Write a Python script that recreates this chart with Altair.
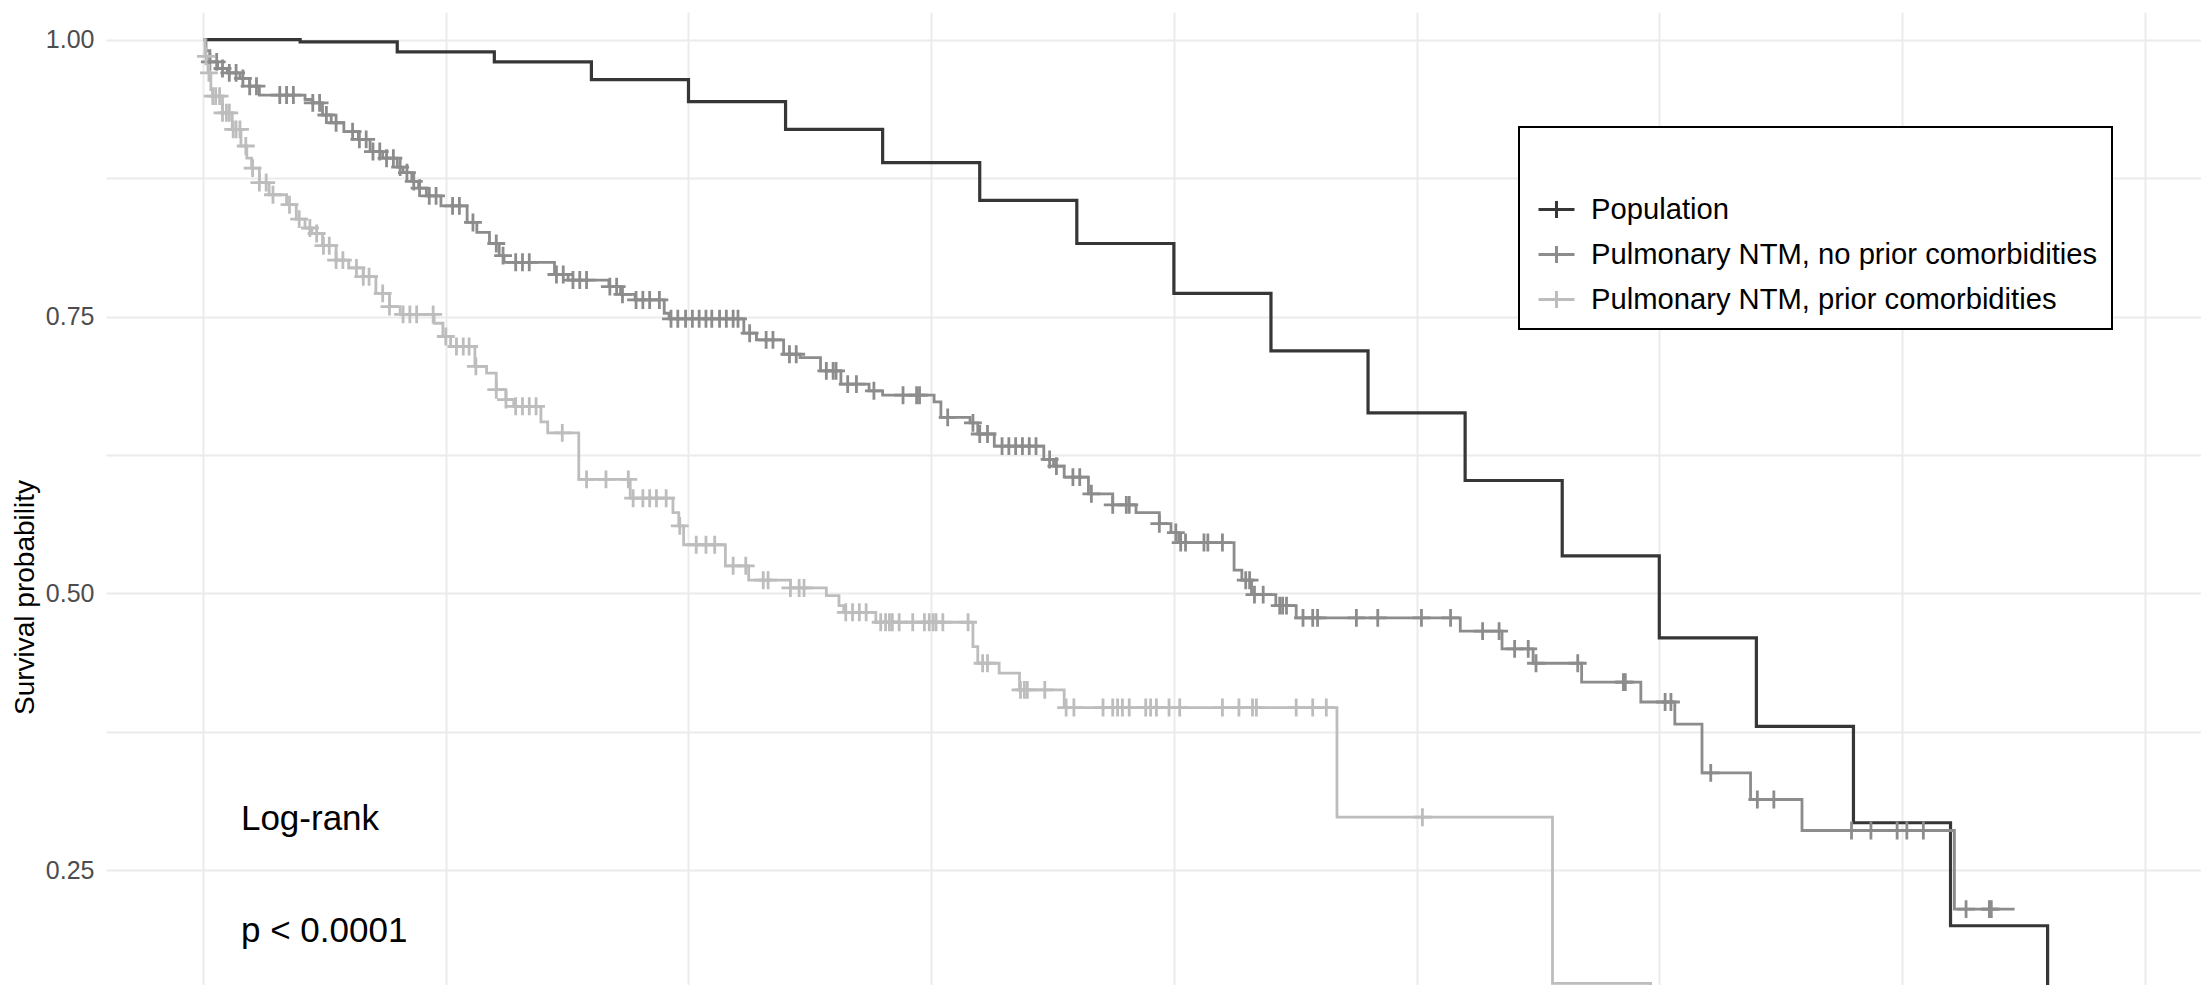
import altair as alt
import pandas as pd

groups = ["Population",
          "Pulmonary NTM, no prior comorbidities",
          "Pulmonary NTM, prior comorbidities"]
colors = ["#363636", "#8C8C8C", "#BDBDBD"]

# Population (expected survival) – yearly steps
pop_t = [0, 1, 2, 3, 4, 5, 6, 7, 8, 9, 10, 11, 12, 13, 14, 15, 16, 17, 18, 19, 20]
pop_s = [1.000, 0.998, 0.989, 0.980, 0.964, 0.944, 0.919, 0.889, 0.855, 0.816,
         0.771, 0.719, 0.663, 0.602, 0.534, 0.460, 0.380, 0.293, 0.200, 0.100, 0.100]

# Pulmonary NTM, no prior comorbidities
dg_t = [0, 0.03, 0.07, 0.15, 0.25, 0.38, 0.48, 0.58, 1.05, 1.13, 1.23, 1.32, 1.45, 1.60,
        1.72, 1.85, 2.00, 2.06, 2.15, 2.22, 2.30, 2.45, 2.72, 2.82, 2.95, 3.05, 3.10, 3.62,
        3.76, 4.18, 4.30, 4.45, 4.75, 4.80, 5.57, 5.70, 5.98, 6.15, 6.36, 6.57, 6.86, 7.00,
        7.53, 7.60, 7.90, 7.98, 8.15, 8.66, 8.76, 8.87, 9.12, 9.37, 9.61, 9.85, 9.97, 10.05,
        10.62, 10.70, 10.80, 11.05, 11.26, 12.95, 13.38, 13.70, 14.20, 14.81, 15.16, 15.44,
        15.94, 16.47, 18.04, 18.66]
dg_s = [1.000, 0.990, 0.980, 0.974, 0.970, 0.965, 0.958, 0.950, 0.946, 0.943, 0.932, 0.925,
        0.917, 0.910, 0.899, 0.893, 0.885, 0.880, 0.872, 0.866, 0.859, 0.850, 0.835, 0.826,
        0.816, 0.805, 0.799, 0.788, 0.783, 0.777, 0.770, 0.765, 0.753, 0.748, 0.735, 0.729,
        0.716, 0.713, 0.701, 0.689, 0.683, 0.679, 0.673, 0.659, 0.654, 0.644, 0.633, 0.621,
        0.615, 0.605, 0.590, 0.580, 0.573, 0.563, 0.555, 0.546, 0.521, 0.512, 0.499, 0.489,
        0.478, 0.466, 0.450, 0.437, 0.420, 0.402, 0.382, 0.338, 0.314, 0.286, 0.215, 0.215]
dg_cens = [0.07, 0.14, 0.20, 0.27, 0.34, 0.41, 0.48, 0.55, 0.79, 0.86, 0.93, 1.13, 1.20, 1.27,
           1.37, 1.54, 1.61, 1.68, 1.75, 1.82, 1.89, 1.96, 2.03, 2.10, 2.17, 2.23, 2.33, 2.40,
           2.57, 2.64, 2.78, 3.02, 3.09, 3.22, 3.29, 3.36, 3.64, 3.71, 3.81, 3.88, 3.95, 4.19,
           4.26, 4.32, 4.46, 4.53, 4.60, 4.70, 4.82, 4.89, 4.97, 5.04, 5.11, 5.18, 5.24, 5.32,
           5.39, 5.46, 5.51, 5.63, 5.80, 5.87, 6.04, 6.11, 6.42, 6.49, 6.52, 6.64, 6.73, 6.91,
           7.21, 7.35, 7.38, 7.67, 7.93, 8.00, 8.08, 8.23, 8.30, 8.37, 8.44, 8.51, 8.58, 8.72,
           8.79, 8.96, 9.03, 9.15, 9.37, 9.51, 9.54, 9.85, 10.02, 10.07, 10.12, 10.31, 10.35,
           10.50, 10.74, 10.78, 10.83, 10.92, 11.09, 11.12, 11.16, 11.33, 11.43, 11.48, 11.88,
           12.10, 12.55, 12.85, 13.18, 13.35, 13.51, 13.65, 13.73, 14.16, 14.63, 14.65, 15.06,
           15.12, 15.53, 16.01, 16.18, 16.98, 17.18, 17.45, 17.55, 17.72, 18.16, 18.40, 18.42]

# Pulmonary NTM, prior comorbidities
lg_t = [0, 0.02, 0.05, 0.08, 0.10, 0.20, 0.30, 0.39, 0.45, 0.50, 0.58, 0.68, 0.86, 0.96,
        1.05, 1.12, 1.23, 1.37, 1.50, 1.65, 1.78, 1.92, 2.03, 2.38, 2.47, 2.55, 2.80, 2.92,
        3.02, 3.12, 3.20, 3.48, 3.55, 3.87, 4.40, 4.84, 4.90, 4.95, 5.38, 5.62, 6.05, 6.42,
        6.55, 6.60, 6.93, 7.93, 7.98, 8.20, 8.41, 8.87, 11.68, 13.90, 14.91]
lg_s = [1.000, 0.985, 0.970, 0.955, 0.949, 0.934, 0.919, 0.904, 0.893, 0.884, 0.871, 0.860,
        0.851, 0.838, 0.830, 0.825, 0.814, 0.801, 0.794, 0.786, 0.771, 0.759, 0.752, 0.744,
        0.732, 0.723, 0.705, 0.699, 0.684, 0.675, 0.669, 0.655, 0.645, 0.603, 0.586, 0.573,
        0.561, 0.544, 0.525, 0.512, 0.505, 0.498, 0.489, 0.483, 0.474, 0.452, 0.437, 0.428,
        0.413, 0.397, 0.298, 0.148, 0.050]
lg_cens = [0.03, 0.06, 0.10, 0.13, 0.17, 0.20, 0.24, 0.27, 0.31, 0.34, 0.38, 0.44, 0.51, 0.58,
           0.65, 0.72, 0.89, 0.99, 1.10, 1.17, 1.24, 1.30, 1.37, 1.44, 1.58, 1.65, 1.71, 1.85,
           1.92, 2.06, 2.13, 2.20, 2.37, 2.50, 2.61, 2.68, 2.74, 2.81, 3.02, 3.12, 3.22, 3.29,
           3.36, 3.43, 3.70, 3.95, 4.15, 4.38, 4.43, 4.53, 4.60, 4.67, 4.77, 4.91, 5.08, 5.18,
           5.27, 5.46, 5.59, 5.77, 5.82, 6.05, 6.14, 6.19, 6.62, 6.69, 6.76, 6.83, 6.98, 7.03,
           7.07, 7.10, 7.17, 7.31, 7.43, 7.48, 7.52, 7.55, 7.62, 7.88, 8.03, 8.08, 8.42, 8.46,
           8.49, 8.67, 8.89, 8.97, 9.27, 9.37, 9.42, 9.47, 9.54, 9.71, 9.76, 9.82, 9.95, 10.06,
           10.50, 10.67, 10.81, 10.85, 11.26, 11.43, 11.57, 12.56]

notes = ["Log-rank", "p < 0.0001"]
note_t = [0.39, 0.39]
note_s = [0.286, 0.185]

y_grid = [0.25, 0.375, 0.5, 0.625, 0.75, 0.875, 1.0]
x_grid = [0, 2.5, 5, 7.5, 10, 12.5, 15, 17.5, 20]


def surv_at(ts, ss, t):
    v = ss[0]
    for ti, si in zip(ts, ss):
        if ti <= t + 1e-9:
            v = si
        else:
            break
    return v


curves = [(groups[0], pop_t, pop_s, []),
          (groups[1], dg_t, dg_s, dg_cens),
          (groups[2], lg_t, lg_s, lg_cens)]

line_rows, cens_rows = [], []
for g, ts, ss, cs in curves:
    for t, s in zip(ts, ss):
        line_rows.append({"time": t, "surv": s, "group": g})
    for c in cs:
        cens_rows.append({"time": c, "surv": surv_at(ts, ss, c), "group": g})

lines_df = pd.DataFrame(line_rows)
pop_df = lines_df[lines_df["group"] == groups[0]]
ntm_df = lines_df[lines_df["group"] != groups[0]]
cens_df = pd.DataFrame(cens_rows)
notes_df = pd.DataFrame({"time": note_t, "surv": note_s, "text": notes})

FONT = "Liberation Sans"

x_scale = alt.Scale(domain=[-1, 20.58], nice=False, zero=False)
y_scale = alt.Scale(domain=[0.1465, 1.025], nice=False, zero=False)

x_axis = alt.Axis(values=x_grid, grid=True, labels=False, ticks=False, domain=False,
                  title=None, gridColor="#EBEBEB", gridWidth=2)
y_axis = alt.Axis(values=y_grid, grid=True, ticks=False, tickSize=0, domain=False,
                  labelExpr="round(datum.value*4) == datum.value*4 ? format(datum.value, '.2f') : ''",
                  labelFont=FONT, labelFontSize=25, labelColor="#4D4D4D", labelPadding=12,
                  gridColor="#EBEBEB", gridWidth=2,
                  title="Survival probability", titleFont=FONT, titleFontSize=28,
                  titleFontWeight="normal", titleColor="#000000",
                  titleBaseline="alphabetic", titleX=-73, titleY=585)

legend = alt.Legend(title=" ", orient="none", legendX=1413, legendY=115,
                    strokeColor="#000000", fillColor="#FFFFFF", padding=14, cornerRadius=0,
                    symbolType="M-1,0H1M0,-0.47V0.47", symbolSize=1296, symbolStrokeWidth=3,
                    symbolFillColor="transparent", symbolOffset=4,
                    labelFont=FONT, labelFontSize=29.2, labelColor="#000000", labelOffset=15,
                    labelLimit=0, rowPadding=10, titleFontSize=30, titlePadding=19)

color = alt.Color("group:N", scale=alt.Scale(domain=groups, range=colors), legend=legend)

pop_line = alt.Chart(pop_df).mark_line(interpolate="step-after", strokeWidth=3.2, clip=True).encode(
    x=alt.X("time:Q", scale=x_scale, axis=x_axis),
    y=alt.Y("surv:Q", scale=y_scale, axis=y_axis),
    color=color,
    order="time:Q",
)

ntm_lines = alt.Chart(ntm_df).mark_line(interpolate="step-after", strokeWidth=2.8, clip=True).encode(
    x=alt.X("time:Q", scale=x_scale),
    y=alt.Y("surv:Q", scale=y_scale),
    color=color,
    order="time:Q",
)

cens = alt.Chart(cens_df).mark_point(shape="M-1,0H1M0,-1V1", filled=False, size=320,
                                     strokeWidth=2.8, opacity=1, clip=True).encode(
    x=alt.X("time:Q", scale=x_scale),
    y=alt.Y("surv:Q", scale=y_scale),
    color=color,
)

text = alt.Chart(notes_df).mark_text(align="left", baseline="alphabetic", font=FONT,
                                     fontSize=35, color="#000000").encode(
    x=alt.X("time:Q", scale=x_scale),
    y=alt.Y("surv:Q", scale=y_scale),
    text="text:N",
)

chart = alt.layer(pop_line, ntm_lines, cens, text).properties(
    width=2095, height=973,
    padding={"left": 98, "top": 4, "right": 0, "bottom": 0},
    autosize=alt.AutoSizeParams(type="none"),
    background="#FFFFFF",
).configure_view(stroke=None).configure_legend(strokeWidth=2)

chart.save("out.html", embed_options={"renderer": "svg", "actions": False})
